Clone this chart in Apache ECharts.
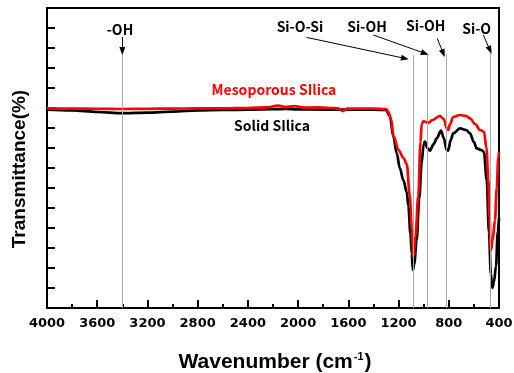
<!DOCTYPE html>
<html>
<head>
<meta charset="utf-8">
<script src="https://cdn.jsdelivr.net/npm/echarts@6/dist/echarts.min.js"></script>
<style>
  html, body { margin: 0; padding: 0; background: #fff; }
  #chart { width: 514px; height: 373px; }
</style>
</head>
<body>
<div id="chart"></div>
<script>
// mesoporous silica (red)
const mesoWave = [4000, 3800, 3600, 3400, 3200, 3000, 2800, 2600, 2400, 2250, 2160, 2100, 2030, 1950, 1850, 1750, 1680, 1643, 1610, 1500, 1400, 1300,
  1280, 1260, 1240, 1200, 1160, 1135, 1110, 1095, 1083, 1065, 1043, 1025, 1016, 1000, 985, 965, 930, 870, 840, 817, 804, 790, 764, 711, 660, 631,
  590, 551, 520, 500, 485, 475, 465, 450, 432, 418, 406, 400];
const mesoT = [9.98, 9.97, 9.96, 9.95, 9.96, 9.97, 9.98, 9.98, 10.0, 10.03, 10.12, 10.04, 10.09, 10.02, 10.03, 10.0, 9.98, 9.84, 9.97, 9.97, 9.97, 9.95,
  9.8, 9.45, 8.6, 7.9, 7.5, 7.2, 5.6, 4.0, 2.57, 3.6, 5.6, 8.3, 9.2, 9.35, 9.3, 9.25, 9.4, 9.6, 9.45, 9.0, 8.9, 9.2, 9.55, 9.65, 9.6, 9.48,
  9.2, 8.9, 8.82, 8.0, 6.4, 4.5, 2.9, 3.4, 4.4, 6.0, 7.5, 7.8];

// solid silica (black)
const solidWave = [4000, 3800, 3600, 3400, 3200, 3000, 2800, 2600, 2400, 2200, 2100, 2000, 1800, 1600, 1400, 1300,
  1270, 1242, 1215, 1190, 1162, 1135, 1122, 1105, 1095, 1086, 1075, 1056, 1035, 1016, 1000, 990, 970, 950, 920, 896, 862, 840, 817, 804, 785, 764,
  711, 660, 631, 600, 578, 540, 520, 498, 480, 465, 453, 440, 424, 410, 400];
const solidT = [9.92, 9.88, 9.8, 9.74, 9.77, 9.82, 9.88, 9.9, 9.92, 9.94, 9.95, 9.93, 9.92, 9.92, 9.92, 9.9,
  9.6, 8.6, 7.75, 7.0, 6.4, 5.8, 5.1, 3.7, 2.7, 1.9, 2.2, 3.4, 5.5, 7.25, 8.2, 8.32, 8.0, 7.87, 8.2, 8.48, 8.87, 8.5, 7.9, 7.87, 8.4, 8.73,
  8.98, 8.9, 8.73, 8.3, 7.98, 7.9, 7.8, 6.4, 3.8, 1.7, 1.0, 1.3, 2.1, 3.8, 4.5];

// peak markers: grey guide lines, their labels and arrows
const peakNames = ['-OH', 'Si-O-Si', 'Si-OH', 'Si-OH', 'Si-O'];
const peakWave = [3400, 1083, 971, 817, 472];
const peakLineTop = [12.8, 12.65, 12.7, 12.7, 12.9];
const peakLabelWave = [3419, 1985, 1451, 984, 578];
const peakLabelT = [13.9, 14.05, 14.05, 14.1, 13.95];
const arrowFromWave = [3400, 1932, 1401, 892, 525];
const arrowFromT = [13.55, 13.53, 13.65, 13.48, 13.65];
const arrowToWave = [3400, 1149, 990, 844, 472];
const arrowToT = [12.85, 12.48, 12.73, 12.73, 12.9];

const seriesNames = ['Mesoporous SIlica', 'Solid SIlica'];
const seriesLabelWave = [2192, 2208];
const seriesLabelT = [10.9, 9.1];

const xTicks = [400, 4000, 400]; // min, max, interval
const yTicks = [0, 15, 1];

const chart = echarts.init(document.getElementById('chart'));

const zip = (xs, ys) => xs.map((x, i) => [x, ys[i]]);
const labelFont = 'Noto Sans CJK KR';

const option = {
  animation: false,
  grid: {
    left: 47, right: 15, top: 8, bottom: 65,
    outerBoundsMode: 'none',
    containLabel: false,
    show: true, borderColor: '#000', borderWidth: 2
  },
  xAxis: {
    type: 'value',
    min: xTicks[0], max: xTicks[1], interval: xTicks[2],
    inverse: true,
    name: '{t|Wavenumber (cm}{s|-1}{t|)}',
    nameLocation: 'middle',
    nameGap: 43,
    nameTextStyle: {
      padding: [0, 0, 0, 4],
      rich: {
        t: { fontFamily: 'Liberation Sans', fontWeight: 'bold', fontSize: 21, color: '#000' },
        s: { fontFamily: 'Liberation Sans', fontWeight: 'bold', fontSize: 11, color: '#000', verticalAlign: 'top', padding: [0, 1, 11, 1] }
      }
    },
    axisLine: { lineStyle: { color: '#000', width: 2 } },
    axisTick: { inside: true, length: 8, lineStyle: { color: '#000', width: 2 } },
    minorTick: { show: true, splitNumber: 2, length: 4, lineStyle: { color: '#000', width: 2 } },
    axisLabel: {
      showMinLabel: true, showMaxLabel: true,
      margin: 9,
      formatter: (v) => String(v),
      fontFamily: 'DejaVu Sans', fontWeight: 'bold', fontSize: 13, color: '#000'
    },
    splitLine: { show: false }
  },
  yAxis: {
    type: 'value',
    min: yTicks[0], max: yTicks[1], interval: yTicks[2],
    name: 'Transmittance(%)',
    nameLocation: 'middle',
    nameGap: 18,
    nameTextStyle: {
      fontFamily: 'Liberation Sans', fontWeight: 'bold', fontSize: 19, color: '#000',
      padding: [0, 22, 0, 0]
    },
    axisLine: { lineStyle: { color: '#000', width: 2 } },
    axisTick: { inside: true, length: 8, lineStyle: { color: '#000', width: 2 } },
    axisLabel: { show: false },
    splitLine: { show: false }
  },
  series: [
    {
      name: seriesNames[1],
      type: 'line',
      data: zip(solidWave, solidT),
      showSymbol: false,
      smooth: 0.35,
      smoothMonotone: 'x',
      lineStyle: { color: '#000', width: 2.7 },
      z: 2
    },
    {
      name: seriesNames[0],
      type: 'line',
      data: zip(mesoWave, mesoT),
      showSymbol: false,
      smooth: 0.35,
      smoothMonotone: 'x',
      lineStyle: { color: '#ff0000', width: 2.7 },
      z: 3
    },
    {
      // annotations
      type: 'line',
      data: [],
      z: 4,
      markLine: {
        silent: true,
        animation: false,
        symbol: ['none', 'none'],
        label: { show: false },
        lineStyle: { color: '#aaa', width: 1, type: 'solid' },
        data: peakWave.map((w, i) => [
          { coord: [w, peakLineTop[i]] },
          { coord: [w, yTicks[0]] }
        ]).concat(arrowFromWave.map((w, i) => [
          { coord: [w, arrowFromT[i]], lineStyle: { color: '#000', width: 1 }, symbol: 'none' },
          { coord: [arrowToWave[i], arrowToT[i]], symbol: 'triangle', symbolSize: [6, 8], symbolRotate: null }
        ]))
      },
      markPoint: {
        silent: true,
        animation: false,
        symbol: 'circle',
        symbolSize: 0,
        label: {
          show: true,
          position: 'inside',
          formatter: '{b}',
          fontFamily: labelFont,
          fontWeight: 'bold',
          fontSize: 14,
          color: '#000'
        },
        data: peakNames.map((n, i) => ({ name: n, coord: [peakLabelWave[i], peakLabelT[i]] }))
          .concat(seriesNames.map((n, i) => ({
            name: n,
            coord: [seriesLabelWave[i], seriesLabelT[i]],
            label: { color: i === 0 ? '#ff0000' : '#000' }
          })))
      }
    }
  ]
};

chart.setOption(option);
</script>
</body>
</html>
